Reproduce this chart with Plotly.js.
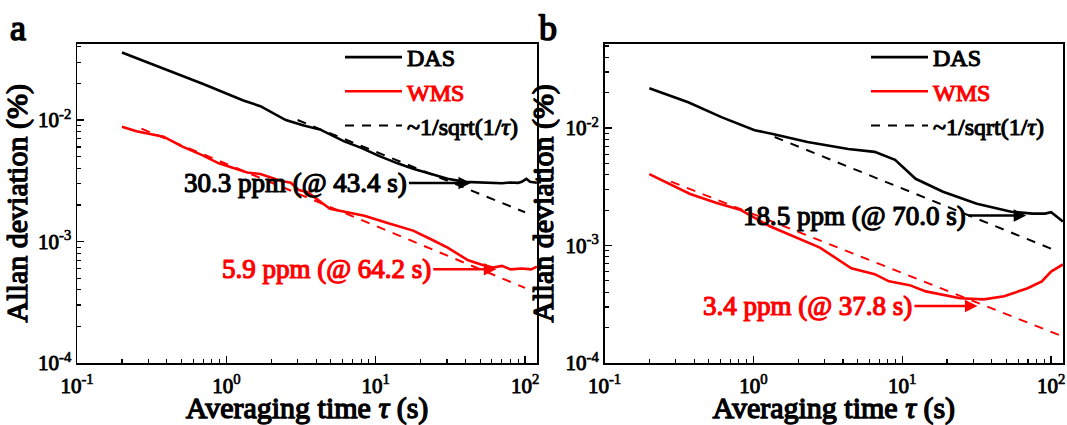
<!DOCTYPE html>
<html>
<head>
<meta charset="utf-8">
<script src="https://cdn.plot.ly/plotly-3.0.1.min.js"></script>
<style>html,body{margin:0;padding:0;background:#fff;}#chart{width:1067px;height:425px;}</style>
</head>
<body>
<div id="chart"></div>
<script>
// ---------- Panel a data ----------
const aDasTau = [0.2, 0.3, 0.43, 0.7, 1.0, 1.3, 1.69, 2.5, 3.3, 4.3, 6.1, 8.0, 10.5, 14, 17.8, 24, 30.3, 39.5, 50, 60, 70, 80, 90, 95, 102, 108, 120];
const aDasDev = [3.6e-2, 2.95e-2, 2.5e-2, 1.98e-2, 1.65e-2, 1.45e-2, 1.30e-2, 1.0e-2, 9.0e-3, 8.3e-3, 6.7e-3, 5.9e-3, 5.07e-3, 4.4e-3, 3.98e-3, 3.55e-3, 3.28e-3, 3.1e-3, 3.05e-3, 3.05e-3, 3.02e-3, 3.06e-3, 3.04e-3, 3.1e-3, 3.28e-3, 3.1e-3, 3.05e-3];
const aWmsTau = [0.2, 0.25, 0.38, 0.5, 0.7, 0.89, 1.38, 1.69, 2.33, 2.7, 3.06, 3.5, 4.94, 8.4, 12, 17.8, 24, 30.3, 41.6, 52, 61, 70, 80, 95, 110, 120];
const aWmsDev = [8.8e-3, 8.1e-3, 7.3e-3, 6.1e-3, 5.1e-3, 4.4e-3, 3.7e-3, 3.6e-3, 3.15e-3, 3.05e-3, 2.65e-3, 2.55e-3, 1.86e-3, 1.63e-3, 1.42e-3, 1.23e-3, 1.03e-3, 8.9e-4, 7.0e-4, 6.4e-4, 6.1e-4, 6.3e-4, 5.9e-4, 6.0e-4, 5.9e-4, 6.2e-4];
const aDasFitTau = [3, 100];
const aDasFitDev = [1.0e-2, 1.74e-3];
const aWmsFitTau = [0.27, 100];
const aWmsFitDev = [8.5e-3, 4.15e-4];

// ---------- Panel b data ----------
const bDasTau = [0.2, 0.365, 0.61, 1.02, 1.35, 2.31, 4.34, 6.53, 8.95, 12.3, 18.8, 31.7, 54, 75, 91, 100, 110, 120];
const bDasDev = [2.18e-2, 1.66e-2, 1.24e-2, 9.6e-3, 8.9e-3, 7.6e-3, 6.64e-3, 6.27e-3, 5.36e-3, 3.7e-3, 2.87e-3, 2.27e-3, 1.94e-3, 1.87e-3, 1.87e-3, 1.92e-3, 1.75e-3, 1.6e-3];
const bWmsTau = [0.2, 0.376, 0.568, 0.813, 1.29, 1.76, 2.8, 4.55, 6.53, 8.15, 11.2, 14.4, 24.5, 35.3, 48.4, 69.5, 86.7, 100, 120];
const bWmsDev = [4.05e-3, 2.75e-3, 2.3e-3, 2.02e-3, 1.46e-3, 1.24e-3, 9.6e-4, 6.4e-4, 5.7e-4, 4.96e-4, 4.6e-4, 4.07e-4, 3.56e-4, 3.48e-4, 3.7e-4, 4.33e-4, 4.95e-4, 6.0e-4, 6.9e-4];
const bDasFitTau = [1.39, 100];
const bDasFitDev = [8.4e-3, 9.4e-4];
const bWmsFitTau = [0.28, 120];
const bWmsFitDev = [3.5e-3, 1.68e-4];

// ---------- Labels ----------
const legendNames = ['DAS', '<span style="color:#ff0000">WMS</span>', '~1/sqrt(1/<i>τ</i>)'];
const xTickVals = [0.1, 1, 10, 100];
const xTickText = ['10<sup>-1</sup>', '10<sup>0</sup>', '10<sup>1</sup>', '10<sup>2</sup>'];
const yTickVals = [1e-4, 1e-3, 1e-2];
const yTickText = ['10<sup>-4</sup>', '10<sup>-3</sup>', '10<sup>-2</sup>'];
const annA = [
  {tau: 43.4, dev: 3.03e-3, text: '30.3 ppm (@ 43.4 s)', color: '#000000', ax: -62},
  {tau: 64.2, dev: 5.9e-4, text: '5.9 ppm (@ 64.2 s)', color: '#ff0000', ax: -63}
];
const annB = [
  {tau: 68, dev: 1.8e-3, text: '18.5 ppm (@ 70.0 s)', color: '#000000', ax: -58},
  {tau: 32, dev: 3.05e-4, text: '3.4 ppm (@ 37.8 s)', color: '#ff0000', ax: -63}
];

const FONT = 'Liberation Serif';
const BLACK = '#000000', RED = '#ff0000';

function minorVals(lo, hi) {
  const out = [];
  for (let p = lo; p < hi; p++) for (let m = 2; m <= 9; m++) out.push(m * Math.pow(10, p));
  return out;
}

function traces(suffix, legendId, das, wms, dasFit, wmsFit) {
  const xa = 'x' + suffix, ya = 'y' + suffix;
  return [
    {x: das[0], y: das[1], xaxis: xa, yaxis: ya, type: 'scatter', mode: 'lines', name: legendNames[0], legend: legendId,
     line: {color: BLACK, width: 2.6}},
    {x: wms[0], y: wms[1], xaxis: xa, yaxis: ya, type: 'scatter', mode: 'lines', name: legendNames[1], legend: legendId,
     line: {color: RED, width: 2.6}},
    {x: dasFit[0], y: dasFit[1], xaxis: xa, yaxis: ya, type: 'scatter', mode: 'lines', name: legendNames[2], legend: legendId,
     line: {color: BLACK, width: 2, dash: '9px,8px'}},
    {x: wmsFit[0], y: wmsFit[1], xaxis: xa, yaxis: ya, type: 'scatter', mode: 'lines', showlegend: false, legend: legendId,
     line: {color: RED, width: 2, dash: '9px,8px'}}
  ];
}

const data = [].concat(
  traces('', 'legend', [aDasTau, aDasDev], [aWmsTau, aWmsDev], [aDasFitTau, aDasFitDev], [aWmsFitTau, aWmsFitDev]),
  traces('2', 'legend2', [bDasTau, bDasDev], [bWmsTau, bWmsDev], [bDasFitTau, bDasFitDev], [bWmsFitTau, bWmsFitDev])
);

const W = 1067, H = 425;
function xAxis(l, r, anchor) {
  return {
    domain: [l / W, r / W], anchor: anchor, type: 'log', range: [-1, 2.08],
    tickmode: 'array', tickvals: xTickVals, ticktext: xTickText,
    ticks: 'inside', ticklen: 7, tickwidth: 1.3, tickcolor: BLACK, ticklabelstandoff: 3,
    minor: {tickmode: 'array', tickvals: minorVals(-1, 3), ticks: 'inside', ticklen: 4, tickwidth: 1.1, tickcolor: BLACK},
    showline: true, linecolor: BLACK, linewidth: 1.5, mirror: true,
    showgrid: false, zeroline: false,
    tickfont: {family: FONT, size: 21, color: BLACK},
    title: {text: 'Averaging time <i>τ</i> (s)', font: {family: FONT, size: 30, color: BLACK}, standoff: 2}
  };
}
function yAxis(top, bottom, rtop, anchor) {
  return {
    domain: [1 - bottom / H, 1 - top / H], anchor: anchor, type: 'log', range: [-4, rtop],
    tickmode: 'array', tickvals: yTickVals, ticktext: yTickText,
    ticks: 'inside', ticklen: 7, tickwidth: 1.3, tickcolor: BLACK,
    minor: {tickmode: 'array', tickvals: minorVals(-4, -1).filter(v => v < Math.pow(10, rtop)), ticks: 'inside', ticklen: 4, tickwidth: 1.1, tickcolor: BLACK},
    showline: true, linecolor: BLACK, linewidth: 1.5, mirror: true,
    showgrid: false, zeroline: false,
    tickfont: {family: FONT, size: 21, color: BLACK},
    title: {text: 'Allan deviation (%)', font: {family: FONT, size: 30, color: BLACK}, standoff: 3}
  };
}

function arrowAnn(a, xref, yref) {
  return {
    x: Math.log10(a.tau), y: Math.log10(a.dev), xref: xref, yref: yref,
    text: a.text, showarrow: true, arrowhead: 2, arrowsize: 1, arrowwidth: 2.5, arrowcolor: a.color,
    ax: a.ax, ay: 0, axref: 'pixel', ayref: 'pixel', xanchor: 'right', yanchor: 'middle', standoff: 0,
    font: {family: FONT, size: 27, color: a.color}
  };
}

const legendCommon = {
  font: {family: FONT, size: 24, color: BLACK},
  bgcolor: 'rgba(0,0,0,0)', borderwidth: 0, itemwidth: 57, tracegroupgap: 0,
  xanchor: 'left', yanchor: 'top', traceorder: 'normal'
};

const layout = {
  width: W, height: H,
  margin: {l: 0, r: 0, t: 0, b: 0},
  paper_bgcolor: '#ffffff', plot_bgcolor: '#ffffff',
  font: {family: FONT},
  showlegend: true,
  xaxis: xAxis(77, 537, 'y'),
  yaxis: yAxis(43.5, 363, -1.37, 'x'),
  xaxis2: xAxis(604.5, 1063, 'y2'),
  yaxis2: yAxis(43.5, 363, -1.28, 'x2'),
  legend: Object.assign({x: 340 / W, y: 1 - 35 / H}, legendCommon),
  legend2: Object.assign({x: 866 / W, y: 1 - 35 / H}, legendCommon),
  annotations: [
    {text: 'a', x: 18 / W, y: 1 - 28 / H, xref: 'paper', yref: 'paper', showarrow: false, xanchor: 'center', yanchor: 'middle',
     font: {family: FONT, size: 36, color: BLACK}},
    {text: 'b', x: 548 / W, y: 1 - 28 / H, xref: 'paper', yref: 'paper', showarrow: false, xanchor: 'center', yanchor: 'middle',
     font: {family: FONT, size: 36, color: BLACK}}
  ].concat(annA.map(a => arrowAnn(a, 'x', 'y')), annB.map(a => arrowAnn(a, 'x2', 'y2')))
};

// Bold look: the serif family has no bold face here, so thicken glyphs with a matching stroke
function embolden(gd) {
  gd.querySelectorAll('text, tspan').forEach(el => {
    const cs = window.getComputedStyle(el);
    const fill = el.style.fill || cs.fill;
    const size = parseFloat(cs.fontSize) || 16;
    el.style.stroke = fill;
    el.style.strokeWidth = (size * 0.045).toFixed(2) + 'px';
    el.style.strokeLinejoin = 'round';
  });
}

Plotly.newPlot('chart', data, layout, {displayModeBar: false, staticPlot: true}).then(embolden);
</script>
</body>
</html>
